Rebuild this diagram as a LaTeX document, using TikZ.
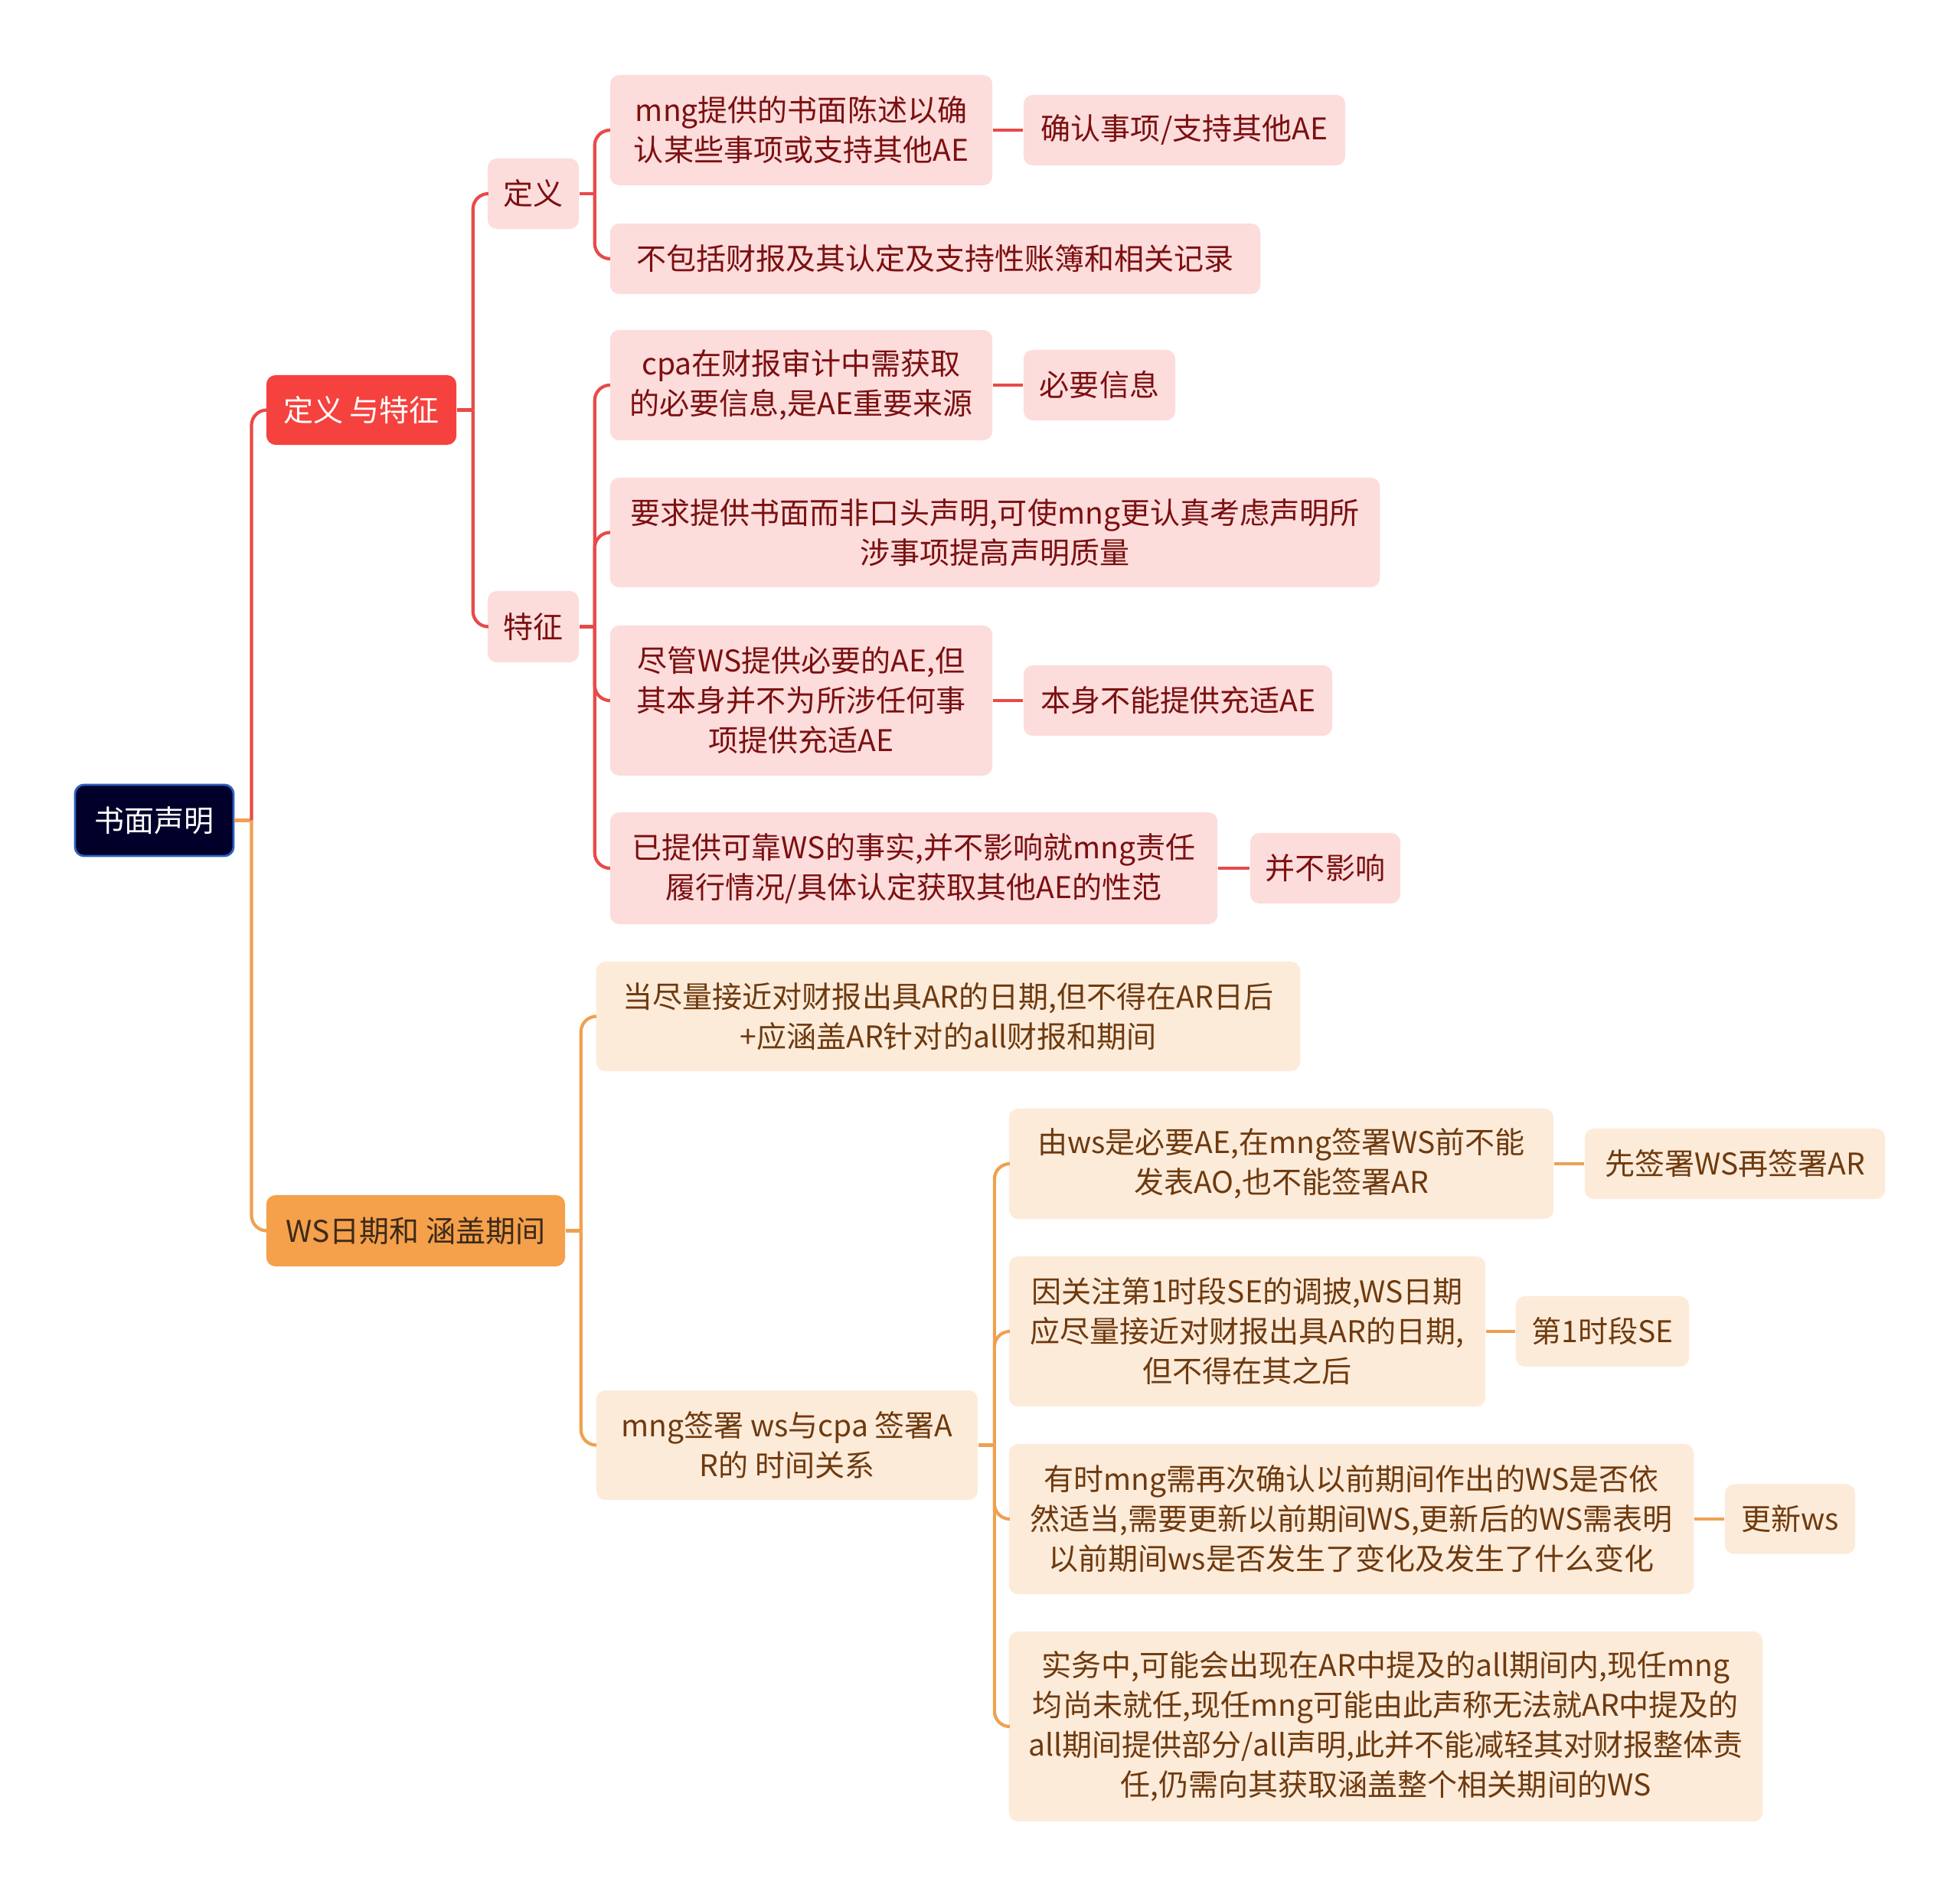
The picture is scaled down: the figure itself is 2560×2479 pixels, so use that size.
\documentclass[tikz,border=0pt]{standalone}
\usepackage{fontspec}
\setmainfont{Noto Sans CJK SC}
\definecolor{rootfill}{HTML}{00002A}
\definecolor{rootedge}{HTML}{2F5FC2}
\definecolor{redfill}{HTML}{F5423E}
\definecolor{orangefill}{HTML}{F5A04B}
\definecolor{orangetext}{HTML}{3D2A1A}
\definecolor{pinkfill}{HTML}{FDDCDC}
\definecolor{pinktext}{HTML}{7B1010}
\definecolor{peachfill}{HTML}{FDEBDA}
\definecolor{peachtext}{HTML}{6E3A0E}
\definecolor{lnred}{HTML}{E84A48}
\definecolor{lnorange}{HTML}{EFA150}
\begin{document}
\begin{tikzpicture}[x=0.01cm, y=-0.01cm,
  every node/.style={font=\fontsize{11.1pt}{14.8pt}\selectfont, align=center, rounded corners=1.2mm, inner sep=0pt},
  rootbox/.style={fill=rootfill, draw=rootedge, line width=0.8pt, text=white},
  redbox/.style={fill=redfill, text=white},
  orangebox/.style={fill=orangefill, text=orangetext},
  pinkbox/.style={fill=pinkfill, text=pinktext},
  peachbox/.style={fill=peachfill, text=peachtext},
  redlink/.style={draw=lnred, line width=1.2pt, rounded corners=2mm},
  orangelink/.style={draw=lnorange, line width=1.2pt, rounded corners=2mm}]
  \useasboundingbox (0,0) rectangle (2560,2479);
  % Root and main branches
  \node[rootbox, minimum width=2.07cm, minimum height=0.93cm] (root) at (201.5,1071.5) {书面声明};
  \node[redbox, minimum width=2.48cm, minimum height=0.91cm] (dingtz) at (472,535.5) {定义 与特征};
  \node[orangebox, minimum width=3.90cm, minimum height=0.93cm] (wsdate) at (543,1607.5) {WS日期和 涵盖期间};
  % Definition and features
  \node[pinkbox, minimum width=1.19cm, minimum height=0.92cm] (dingyi) at (696.5,253) {定义};
  \node[pinkbox, minimum width=1.19cm, minimum height=0.93cm] (tezheng) at (696.5,818.5) {特征};
  \node[pinkbox, minimum width=4.99cm, minimum height=1.44cm] (d1) at (1046.5,170) {mng提供的书面陈述以确\\认某些事项或支持其他AE};
  \node[pinkbox, minimum width=4.20cm, minimum height=0.92cm] (d1a) at (1547,170) {确认事项/支持其他AE};
  \node[pinkbox, minimum width=8.49cm, minimum height=0.92cm] (d2) at (1221.5,338) {不包括财报及其认定及支持性账簿和相关记录};
  \node[pinkbox, minimum width=4.99cm, minimum height=1.44cm] (t1) at (1046.5,503) {cpa在财报审计中需获取\\的必要信息,是AE重要来源};
  \node[pinkbox, minimum width=1.98cm, minimum height=0.92cm] (t1a) at (1436,503) {必要信息};
  \node[pinkbox, minimum width=10.05cm, minimum height=1.43cm] (t2) at (1299.5,695.5) {要求提供书面而非口头声明,可使mng更认真考虑声明所\\涉事项提高声明质量};
  \node[pinkbox, minimum width=4.99cm, minimum height=1.96cm] (t3) at (1046.5,915) {尽管WS提供必要的AE,但\\其本身并不为所涉任何事\\项提供充适AE};
  \node[pinkbox, minimum width=4.03cm, minimum height=0.92cm] (t3a) at (1538.5,915) {本身不能提供充适AE};
  \node[pinkbox, minimum width=7.93cm, minimum height=1.46cm] (t4) at (1193.5,1134) {已提供可靠WS的事实,并不影响就mng责任\\履行情况/具体认定获取其他AE的性范};
  \node[pinkbox, minimum width=1.96cm, minimum height=0.92cm] (t4a) at (1731,1134) {并不影响};
  % WS date branch
  \node[peachbox, minimum width=9.19cm, minimum height=1.43cm] (w1) at (1238.5,1327.5) {当尽量接近对财报出具AR的日期,但不得在AR日后\\+应涵盖AR针对的all财报和期间};
  \node[peachbox, minimum width=4.98cm, minimum height=1.43cm] (w2) at (1028,1887.5) {mng签署 ws与cpa 签署A\\R的 时间关系};
  \node[peachbox, minimum width=7.11cm, minimum height=1.44cm] (w21) at (1673.5,1520) {由ws是必要AE,在mng签署WS前不能\\发表AO,也不能签署AR};
  \node[peachbox, minimum width=3.92cm, minimum height=0.92cm] (w21a) at (2266,1520) {先签署WS再签署AR};
  \node[peachbox, minimum width=6.22cm, minimum height=1.96cm] (w22) at (1629,1739) {因关注第1时段SE的调披,WS日期\\应尽量接近对财报出具AR的日期,\\但不得在其之后};
  \node[peachbox, minimum width=2.26cm, minimum height=0.92cm] (w22a) at (2093,1739) {第1时段SE};
  \node[peachbox, minimum width=8.94cm, minimum height=1.96cm] (w23) at (1765,1984) {有时mng需再次确认以前期间作出的WS是否依\\然适当,需要更新以前期间WS,更新后的WS需表明\\以前期间ws是否发生了变化及发生了什么变化};
  \node[peachbox, minimum width=1.70cm, minimum height=0.91cm] (w23a) at (2338,1984) {更新ws};
  \node[peachbox, minimum width=9.84cm, minimum height=2.48cm] (w24) at (1810,2255) {实务中,可能会出现在AR中提及的all期间内,现任mng\\均尚未就任,现任mng可能由此声称无法就AR中提及的\\all期间提供部分/all声明,此并不能减轻其对财报整体责\\任,仍需向其获取涵盖整个相关期间的WS};
  % Connectors
  \draw[orangelink] (root.east) -- ++(22,0) coordinate (jroot);
  \draw[redlink] (jroot) |- (dingtz.west);
  \draw[orangelink] (jroot) |- (wsdate.west);
  \draw[redlink] (dingtz.east) -- ++(21,0) coordinate (jdt);
  \foreach \c in {dingyi,tezheng} \draw[redlink] (jdt) |- (\c.west);
  \draw[redlink] (dingyi.east) -- ++(20,0) coordinate (jdy);
  \foreach \c in {d1,d2} \draw[redlink] (jdy) |- (\c.west);
  \draw[redlink] (tezheng.east) -- ++(20,0) coordinate (jtz);
  \foreach \c in {t1,t2,t3,t4} \draw[redlink] (jtz) |- (\c.west);
  \foreach \a/\b in {d1/d1a,t1/t1a,t3/t3a,t4/t4a} \draw[redlink] (\a.east) -- (\b.west);
  \draw[orangelink] (wsdate.east) -- ++(20,0) coordinate (jws);
  \foreach \c in {w1,w2} \draw[orangelink] (jws) |- (\c.west);
  \draw[orangelink] (w2.east) -- ++(21,0) coordinate (jw2);
  \foreach \c in {w21,w22,w23,w24} \draw[orangelink] (jw2) |- (\c.west);
  \foreach \a/\b in {w21/w21a,w22/w22a,w23/w23a} \draw[orangelink] (\a.east) -- (\b.west);
\end{tikzpicture}
\end{document}
